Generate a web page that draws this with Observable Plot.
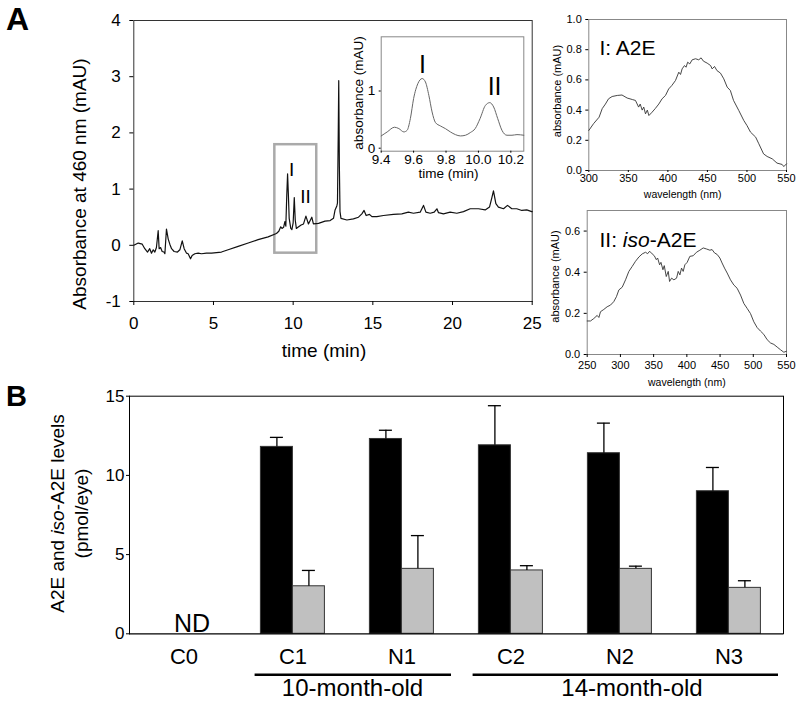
<!DOCTYPE html>
<html>
<head>
<meta charset="utf-8">
<script src="https://cdn.jsdelivr.net/npm/d3@7"></script>
<script src="https://cdn.jsdelivr.net/npm/@observablehq/plot@0.6"></script>
<style>
  body { margin: 0; background: #fff; }
  #fig { position: relative; width: 800px; height: 707px; overflow: hidden; background: #fff;
         font-family: "Liberation Sans", Arial, Helvetica, sans-serif; }
  .panel { position: absolute; font-weight: bold; line-height: 1; color: #000; }
</style>
</head>
<body>
<div id="fig"></div>
<script>
// ---------------- DATA ----------------
// Panel A main chromatogram (time in min, absorbance at 460 nm in mAU)
const chromTime = [0,0.28,0.53,0.69,0.86,1.0,1.11,1.22,1.32,1.42,
  1.53,1.59,1.68,1.78,1.89,1.95,2.05,2.16,2.26,2.37,
  2.53,2.74,2.89,3.04,3.16,3.31,3.41,3.56,3.66,3.83,
  4.04,4.25,4.56,4.88,5.19,5.5,5.92,6.55,7.18,7.8,
  8.43,8.95,9.1,9.22,9.3,9.4,9.48,9.54,9.6,9.65,
  9.7,9.75,9.85,9.92,10.0,10.07,10.13,10.2,10.3,10.5,
  10.65,10.8,10.96,11.17,11.27,11.59,12.0,12.32,12.53,12.63,
  12.74,12.78,12.83,12.86,12.9,12.94,13.0,13.37,13.78,14.1,
  14.31,14.45,14.58,14.79,14.94,15.25,15.67,16.29,16.82,17.23,
  17.55,17.97,18.18,18.33,18.6,18.85,19.02,19.12,19.43,19.85,
  20.27,20.69,21.11,21.63,22.05,22.32,22.47,22.57,22.72,22.88,
  23.2,23.45,23.72,24.03,24.35,24.66,24.97,25];
const chromAbs = [0,0.04,0.02,-0.06,-0.12,-0.06,-0.14,-0.08,-0.12,-0.04,
  0.26,-0.06,-0.04,-0.11,-0.12,-0.15,0.29,0.11,0.02,-0.06,
  -0.11,-0.12,-0.08,0.08,-0.06,-0.14,-0.15,-0.24,-0.18,-0.15,
  -0.14,-0.15,-0.14,-0.14,-0.13,-0.12,-0.08,-0.02,0.04,0.1,
  0.15,0.21,0.25,0.33,0.3,0.32,0.42,0.34,0.9,1.27,
  0.9,0.48,0.3,0.28,0.4,0.85,0.45,0.3,0.32,0.36,
  0.38,0.52,0.38,0.5,0.38,0.39,0.43,0.44,0.48,0.63,
  0.7,0.75,2.0,2.93,1.4,0.6,0.48,0.45,0.47,0.5,
  0.56,0.62,0.53,0.55,0.51,0.51,0.53,0.55,0.56,0.59,
  0.57,0.59,0.71,0.59,0.57,0.59,0.65,0.58,0.56,0.59,
  0.57,0.6,0.65,0.65,0.63,0.68,0.85,0.97,0.74,0.68,
  0.65,0.71,0.65,0.65,0.62,0.63,0.6,0.6];
const mainXTicks = [0, 5, 10, 15, 20, 25];
const mainYTicks = [-1, 0, 1, 2, 3, 4];
const zoomWindow = [{t0: 8.85, t1: 11.48, a0: -0.14, a1: 1.79}];
const mainPeakLabels = [{label: "I", t: 9.9, v: 1.34}, {label: "II", t: 10.77, v: 0.86}];

// Inset (zoom of 9.4–10.3 min)
const insetTime = [9.4,9.437,9.482,9.509,9.54,9.56,9.58,9.60,9.626,9.653,9.673,9.694,9.714,9.735,9.765,9.796,
  9.827,9.858,9.889,9.92,9.95,9.98,10.01,10.043,10.07,10.094,10.119,10.145,10.176,10.207,10.238,10.28];
const insetAbs = [0.267,0.337,0.419,0.395,0.337,0.366,0.57,0.92,1.18,1.27,1.21,0.977,0.686,0.5,0.442,0.395,
  0.337,0.29,0.267,0.279,0.326,0.395,0.57,0.8,0.849,0.773,0.57,0.366,0.279,0.279,0.29,0.279];
const insetXTicks = [9.4, 9.6, 9.8, 10.0, 10.2];
const insetYTicks = [0, 1];
const insetPeakLabels = [{label: "I", t: 9.655, v: 1.5}, {label: "II", t: 10.1, v: 1.13}];

// Spectrum I: A2E
const specINm = [300,306,313,317,321,325,329.5,336,342,348.5,355,359,363,365,367.5,369.5,371.7,374,376,380,
  384,388.5,392.7,397,401,405,409.6,413.8,416,418,421,423,425,427.7,430.7,435,439,442,445,449.7,
  454,456,459,462,466.5,470.7,475,479,483,489.7,496,500,504.5,511,515,521,525.5,532,538,544.5,546.6,550];
const specIAbs = [0.265,0.31,0.353,0.41,0.44,0.475,0.49,0.497,0.50,0.48,0.47,0.464,0.42,0.44,0.40,0.42,0.375,0.40,0.364,0.386,
  0.41,0.44,0.475,0.497,0.54,0.563,0.596,0.651,0.636,0.673,0.695,0.684,0.717,0.706,0.733,0.74,0.733,0.746,0.724,0.711,
  0.695,0.673,0.689,0.662,0.645,0.607,0.552,0.53,0.464,0.397,0.331,0.298,0.254,0.221,0.177,0.11,0.093,0.077,0.049,0.04,0.026,0.044];
const specIXTicks = [300, 350, 400, 450, 500, 550];
const specIYTicks = [0, 0.2, 0.4, 0.6, 0.8, 1.0];

// Spectrum II: iso-A2E
const specIINm = [250,255,260,265,267.6,270,275,280,285,290,294,297.7,302.7,307.7,312.7,317.7,322.7,327.8,332.8,337.8,
  341,344,347.8,351,354,356,359,361,364,366,369,372,374,377,380.5,384.5,387,389.5,392,394.5,
  397,400.5,404.5,409.5,414.5,419.6,424.6,429.6,434.6,438,441.6,445.7,449.7,453,456.7,460.7,465.7,470.7,475.7,480.8,
  485.8,490.8,495.8,500.8,505.8,510.8,515.8,520.9,526,531,536,541,546,550];
const specIIAbs = [0.163,0.163,0.175,0.19,0.18,0.208,0.219,0.232,0.24,0.257,0.281,0.314,0.327,0.363,0.404,0.428,0.453,0.474,0.489,0.497,
  0.49,0.502,0.489,0.48,0.461,0.469,0.436,0.448,0.412,0.432,0.379,0.404,0.355,0.371,0.363,0.371,0.404,0.387,0.42,0.404,
  0.436,0.448,0.477,0.48,0.497,0.507,0.518,0.513,0.507,0.51,0.494,0.486,0.469,0.445,0.42,0.396,0.363,0.338,0.322,0.289,
  0.248,0.224,0.199,0.159,0.131,0.114,0.098,0.072,0.056,0.049,0.036,0.023,0.011,0.016];
const specIIXTicks = [250, 300, 350, 400, 450, 500, 550];
const specIIYTicks = [0, 0.2, 0.4, 0.6];

// Panel B: A2E and iso-A2E levels (pmol/eye)
const categories = ["C0", "C1", "N1", "C2", "N2", "N3"];
const seriesNames = ["A2E", "iso-A2E"];
const a2eMean = [null, 11.8, 12.3, 11.9, 11.4, 9.0];
const a2eErr  = [null, 0.6, 0.55, 2.5, 1.9, 1.5];
const isoMean = [null, 3.0, 4.1, 4.0, 4.1, 2.9];
const isoErr  = [null, 1.0, 2.1, 0.3, 0.17, 0.45];
const notDetected = ["C0"];
const barYTicks = [0, 5, 10, 15];
const groups = [
  {label: "10-month-old", members: ["C1", "N1"]},
  {label: "14-month-old", members: ["C2", "N2", "N3"]}
];

// ---------------- HELPERS ----------------
const FONT = '"Liberation Sans", Arial, Helvetica, sans-serif';
const fig = document.getElementById("fig");
function place(node, left, top) {
  const d = document.createElement("div");
  d.style.cssText = `position:absolute;left:${left}px;top:${top}px;`;
  d.appendChild(node);
  fig.appendChild(d);
}
function italicize(root, plain, html) {
  root.querySelectorAll("text, tspan").forEach(el => {
    if (el.children.length === 0 && el.textContent === plain) el.innerHTML = html;
  });
}
const plain = d => String(d);
const baseStyle = {fontFamily: FONT, background: "transparent", overflow: "visible", color: "#000"};

// ---------------- PANEL A: main chromatogram ----------------
const chrom = chromTime.map((t, i) => ({t, v: chromAbs[i]}));
const mainPlot = Plot.plot({
  width: 540, height: 370,
  marginLeft: 133.3, marginRight: 8.3, marginTop: 20, marginBottom: 69,
  style: baseStyle,
  x: {domain: [0, 25]},
  y: {domain: [-1, 4]},
  marks: [
    Plot.frame({stroke: "#333", strokeWidth: 1}),
    Plot.axisX({ticks: mainXTicks, tickFormat: plain, tickSize: 4, tickPadding: 11, fontSize: 17, label: null}),
    Plot.axisY({ticks: mainYTicks, tickFormat: plain, tickSize: 4, tickPadding: 9, fontSize: 17, label: null}),
    Plot.text(["time (min)"], {text: d => d, frameAnchor: "bottom", textAnchor: "middle", dy: 55, dx: -9, fontSize: 19}),
    Plot.text(["Absorbance at 460 nm (mAU)"], {text: d => d, frameAnchor: "left", textAnchor: "middle", rotate: -90, dx: -54, dy: 23, fontSize: 19}),
    Plot.rect(zoomWindow, {x1: "t0", x2: "t1", y1: "a0", y2: "a1", fill: "none", stroke: "#aaa", strokeWidth: 2.5}),
    Plot.line(chrom, {x: "t", y: "v", stroke: "#111", strokeWidth: 1.2}),
    Plot.text(mainPeakLabels, {x: "t", y: "v", text: "label", fontSize: 19})
  ]
});
place(mainPlot, 0, 0);

// ---------------- PANEL A: inset ----------------
const inset = insetTime.map((t, i) => ({t, v: insetAbs[i]}));
const insetPlot = Plot.plot({
  width: 190, height: 160,
  marginLeft: 40.7, marginRight: 6.7, marginTop: 8.3, marginBottom: 37.3,
  style: baseStyle,
  x: {domain: [9.4, 10.28]},
  y: {domain: [0, 2]},
  marks: [
    Plot.frame({stroke: "#888", strokeWidth: 1}),
    Plot.axisX({ticks: insetXTicks, tickFormat: d3.format(".1f"), tickSize: 2, tickPadding: 1, fontSize: 13.5, label: null}),
    Plot.axisY({ticks: insetYTicks, tickFormat: plain, tickSize: 2, tickPadding: 4, fontSize: 13.5, dy: -3, label: null}),
    Plot.text(["time (min)"], {text: d => d, frameAnchor: "bottom", textAnchor: "middle", dy: 27, dx: -4, fontSize: 13.5}),
    Plot.text(["absorbance (mAU)"], {text: d => d, frameAnchor: "left", textAnchor: "middle", rotate: -90, dx: -23, dy: -1, fontSize: 13.5}),
    Plot.line(inset, {x: "t", y: "v", stroke: "#666", strokeWidth: 1, curve: "monotone-x"}),
    Plot.text(insetPeakLabels, {x: "t", y: "v", text: "label", fontSize: 25})
  ]
});
place(insetPlot, 340, 28);

// ---------------- PANEL A: spectrum I ----------------
const specI = specINm.map((nm, i) => ({nm, a: specIAbs[i]}));
const specIPlot = Plot.plot({
  width: 260, height: 205,
  marginLeft: 48.3, marginRight: 14, marginTop: 19, marginBottom: 35,
  style: baseStyle,
  x: {domain: [300, 550]},
  y: {domain: [0, 1]},
  marks: [
    Plot.frame({stroke: "#888", strokeWidth: 1}),
    Plot.axisX({ticks: specIXTicks, tickFormat: plain, tickSize: 2, tickPadding: 2, fontSize: 11, label: null}),
    Plot.axisY({ticks: specIYTicks, tickFormat: d3.format(".1f"), tickSize: 3, tickPadding: 4, fontSize: 11, label: null}),
    Plot.text(["wavelength (nm)"], {text: d => d, frameAnchor: "bottom", textAnchor: "middle", dy: 27, dx: -5, fontSize: 10.5}),
    Plot.text(["absorbance (mAU)"], {text: d => d, frameAnchor: "left", textAnchor: "middle", rotate: -90, dx: -31, dy: -4, fontSize: 11}),
    Plot.line(specI, {x: "nm", y: "a", stroke: "#333", strokeWidth: 0.9}),
    Plot.text(["I: A2E"], {text: d => d, frameAnchor: "top-left", textAnchor: "start", dx: 10.7, dy: 20.2, fontSize: 21})
  ]
});
place(specIPlot, 540, 0);

// ---------------- PANEL A: spectrum II ----------------
const specII = specIINm.map((nm, i) => ({nm, a: specIIAbs[i]}));
const specIIPlot = Plot.plot({
  width: 260, height: 195,
  marginLeft: 46.7, marginRight: 14, marginTop: 15, marginBottom: 36,
  style: baseStyle,
  x: {domain: [250, 550]},
  y: {domain: [0, 0.7]},
  marks: [
    Plot.frame({stroke: "#888", strokeWidth: 1}),
    Plot.axisX({ticks: specIIXTicks, tickFormat: plain, tickSize: 3, tickPadding: 4, fontSize: 11, label: null}),
    Plot.axisY({ticks: specIIYTicks, tickFormat: d3.format(".1f"), tickSize: 3, tickPadding: 4, fontSize: 11, label: null}),
    Plot.text(["wavelength (nm)"], {text: d => d, frameAnchor: "bottom", textAnchor: "middle", dy: 31, fontSize: 10.5}),
    Plot.text(["absorbance (mAU)"], {text: d => d, frameAnchor: "left", textAnchor: "middle", rotate: -90, dx: -31.7, dy: -6, fontSize: 11}),
    Plot.line(specII, {x: "nm", y: "a", stroke: "#333", strokeWidth: 0.9}),
    Plot.text(["II: iso-A2E"], {text: d => d, frameAnchor: "top-left", textAnchor: "start", dx: 12.3, dy: 21.8, fontSize: 21})
  ]
});
italicize(specIIPlot, "II: iso-A2E", 'II: <tspan font-style="italic">iso</tspan>-A2E');
place(specIIPlot, 540, 195);

// ---------------- PANEL B: bar chart ----------------
const rows = [];
categories.forEach((c, i) => {
  if (a2eMean[i] != null) rows.push({category: c, series: seriesNames[0], value: a2eMean[i], err: a2eErr[i]});
  if (isoMean[i] != null) rows.push({category: c, series: seriesNames[1], value: isoMean[i], err: isoErr[i]});
});
const ndRows = notDetected.map(c => ({category: c, label: "ND"}));
const segments = groups.flatMap(g => g.members.map((m, i) => ({
  category: m,
  role: i === 0 ? "first" : i === g.members.length - 1 ? "last" : "mid"
})));
const groupLabelRows = groups.map(g => {
  const n = g.members.length;
  return n % 2 === 0
    ? {category: g.members[n / 2 - 1], label: g.label, boundary: true}
    : {category: g.members[(n - 1) / 2], label: g.label, boundary: false};
});
const lineDy = 41;
const barPlot = Plot.plot({
  width: 800, height: 327,
  marginLeft: 127.6, marginRight: 16, marginTop: 15.7, marginBottom: 73.7,
  style: baseStyle,
  fx: {domain: categories, padding: 0, label: null},
  x: {domain: seriesNames, paddingInner: 0, paddingOuter: 0.68, axis: null},
  y: {domain: [0, 15]},
  color: {domain: seriesNames, range: ["#000000", "#c0c0c0"]},
  marks: [
    Plot.barY(rows, {fx: "category", x: "series", y: "value", fill: "series", stroke: "#333", strokeWidth: 1}),
    Plot.ruleX(rows, {fx: "category", x: "series", y1: "value", y2: d => d.value + d.err, stroke: "#000", strokeWidth: 1.3}),
    Plot.tickY(rows, {fx: "category", x: "series", y: d => d.value + d.err, insetLeft: 9.5, insetRight: 9.5, stroke: "#000", strokeWidth: 1.3}),
    Plot.ruleY([0], {stroke: "#000", strokeWidth: 1.3}),
    Plot.ruleY([15], {stroke: "#000", strokeWidth: 1}),
    Plot.frame({anchor: "left", facetAnchor: "left", stroke: "#000"}),
    Plot.frame({anchor: "right", facetAnchor: "right", stroke: "#000"}),
    Plot.axisY({ticks: barYTicks, tickFormat: plain, tickSize: 3, tickPadding: 2, fontSize: 17, label: null}),
    Plot.axisFx({anchor: "bottom", tickSize: 0, tickPadding: 15, fontSize: 22, label: null}),
    Plot.text(ndRows, {fx: "category", text: "label", frameAnchor: "bottom", lineAnchor: "bottom", dx: 8, dy: -2, fontSize: 25}),
    Plot.ruleY(segments.filter(s => s.role === "first"), {fx: "category", y: () => 0, dy: lineDy, insetLeft: 16.6, stroke: "#000", strokeWidth: 2.5}),
    Plot.ruleY(segments.filter(s => s.role === "mid"), {fx: "category", y: () => 0, dy: lineDy, stroke: "#000", strokeWidth: 2.5}),
    Plot.ruleY(segments.filter(s => s.role === "last"), {fx: "category", y: () => 0, dy: lineDy, insetRight: 5, stroke: "#000", strokeWidth: 2.5}),
    Plot.text(groupLabelRows.filter(g => g.boundary), {fx: "category", text: "label", frameAnchor: "bottom-right", textAnchor: "middle", dx: 5, dy: 62, fontSize: 24}),
    Plot.text(groupLabelRows.filter(g => !g.boundary), {fx: "category", text: "label", frameAnchor: "bottom", textAnchor: "middle", dx: 12, dy: 62, fontSize: 24}),
    Plot.text(["A2E and iso-A2E levels\n(pmol/eye)"], {text: d => d, frameAnchor: "left", facetAnchor: "left", textAnchor: "middle", rotate: -90, dx: -61, dy: -1.5, fontSize: 19, lineHeight: 1.22})
  ]
});
italicize(barPlot, "A2E and iso-A2E levels", 'A2E and <tspan font-style="italic">iso</tspan>-A2E levels');
place(barPlot, 0, 380);

// ---------------- Panel letters ----------------
for (const [txt, left, top, size] of [["A", 6, 3, 32], ["B", 6, 382, 29]]) {
  const d = document.createElement("div");
  d.className = "panel";
  d.style.left = left + "px"; d.style.top = top + "px"; d.style.fontSize = size + "px";
  d.textContent = txt;
  fig.appendChild(d);
}
</script>
</body>
</html>
